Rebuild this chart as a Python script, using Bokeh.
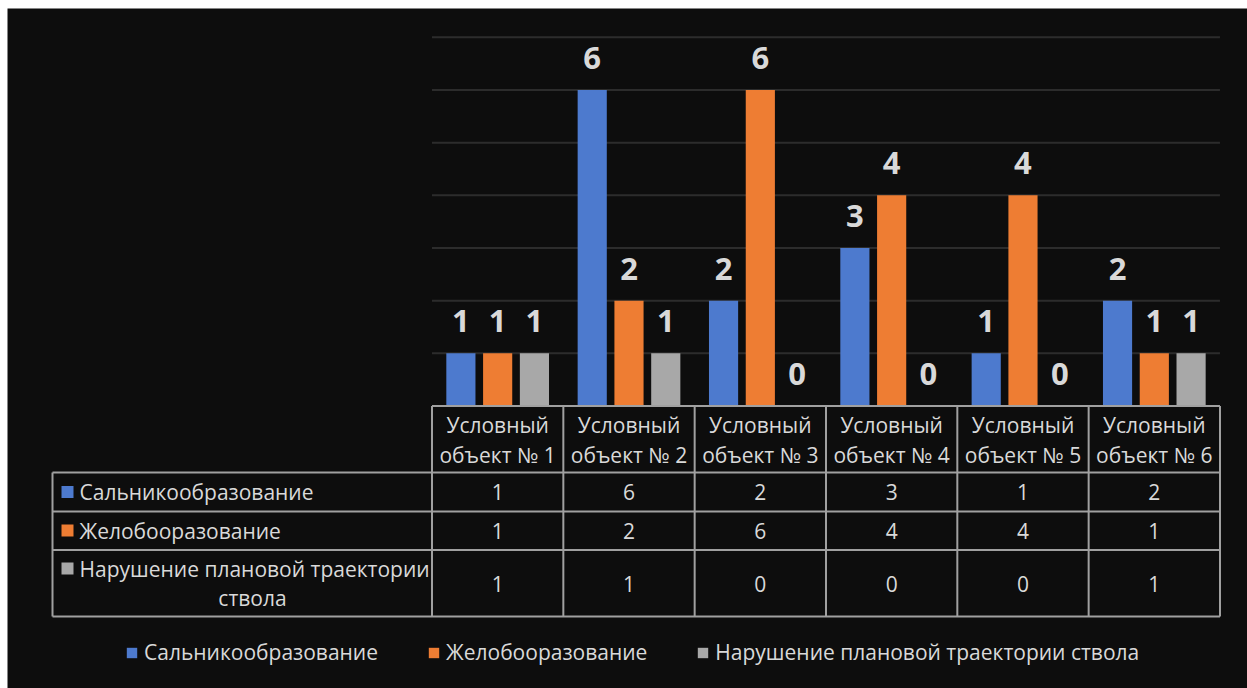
from bokeh.plotting import figure
from bokeh.models import Range1d, Legend, LegendItem
from bokeh.core.properties import value
from bokeh.embed import file_html
from bokeh.resources import INLINE

# ---------------- data ----------------
categories = ["Условный объект № 1", "Условный объект № 2", "Условный объект № 3",
              "Условный объект № 4", "Условный объект № 5", "Условный объект № 6"]
series_names = ["Сальникообразование", "Желобооразование",
                "Нарушение плановой траектории ствола"]
salnik = [1, 6, 2, 3, 1, 2]
zhelob = [1, 2, 6, 4, 4, 1]
narush = [1, 1, 0, 0, 0, 1]
grid_values = [1, 2, 3, 4, 5, 6, 7]

series_values = [salnik, zhelob, narush]
colors = ["#4d7ace", "#ee7d33", "#a8a8a8"]

# ---------------- layout (pixels) ----------------
W, H = 1247, 688
LM, TM = 7, 8
X0_PX, CAT_PX = 431.5, 131.33      # category axis start, width per category
Y0_PX, UNIT_PX = 405.5, 52.67      # value 0 pixel, pixels per unit
FONT = value("Open Sans")
TXT = "#d9d9d9"
LINE = "#a0a0a0"
FS = "21px"


def ux(px):
    return (px - X0_PX) / CAT_PX


def vy(py):
    return (Y0_PX - py) / UNIT_PX


p = figure(width=W, height=H,
           x_range=Range1d(ux(LM), ux(W)), y_range=Range1d(vy(H), vy(TM)),
           output_backend="svg", toolbar_location=None,
           x_axis_location=None, y_axis_location=None,
           min_border_left=LM, min_border_top=TM, min_border_right=0, min_border_bottom=0,
           background_fill_color="#0d0d0d", border_fill_color="white")
p.grid.visible = False
p.outline_line_color = None

n = len(categories)

# gridlines
p.segment(x0=[0] * len(grid_values), x1=[n] * len(grid_values),
          y0=grid_values, y1=grid_values, line_color="#2c2c2c", line_width=2)

# bars + labels
offsets = [-0.28, 0.0, 0.28]
bar_w = 0.222
renderers = []
for vals, off, col in zip(series_values, offsets, colors):
    xs = [i + 0.5 + off for i in range(n)]
    r = p.vbar(x=xs, top=vals, bottom=0, width=bar_w, fill_color=col, line_color=None)
    renderers.append(r)
    p.text(x=xs, y=vals, text=[str(v) for v in vals], text_align="center",
           text_baseline="alphabetic", y_offset=-32, text_font=FONT,
           text_font_style="bold", text_font_size="31px", text_color=TXT)

# ---------------- data table ----------------
hdr_bot, r1_bot, r2_bot, r3_bot = vy(472), vy(511), vy(549.5), vy(616)
left_x = ux(52)
# horizontal lines
p.segment(x0=[0], x1=[n], y0=[0], y1=[0], line_color=LINE, line_width=2)
p.segment(x0=[left_x] * 4, x1=[n] * 4, y0=[hdr_bot, r1_bot, r2_bot, r3_bot],
          y1=[hdr_bot, r1_bot, r2_bot, r3_bot], line_color=LINE, line_width=2)
# vertical lines
p.segment(x0=list(range(n + 1)), x1=list(range(n + 1)), y0=[0] * (n + 1),
          y1=[r3_bot] * (n + 1), line_color=LINE, line_width=2)
p.segment(x0=[left_x], x1=[left_x], y0=[hdr_bot], y1=[r3_bot], line_color=LINE, line_width=2)

# header texts
cx = [i + 0.5 for i in range(n)]
line1 = [c.split(" ", 1)[0] for c in categories]
line2 = [c.split(" ", 1)[1] for c in categories]
p.text(x=cx, y=[vy(424)] * n, text=line1, text_align="center", text_baseline="middle",
       text_font=FONT, text_font_size=FS, text_color=TXT)
p.text(x=cx, y=[vy(454)] * n, text=line2, text_align="center", text_baseline="middle",
       text_font=FONT, text_font_size=FS, text_color=TXT)

# row values
row_centers = [vy(491.5), vy(530), vy(583)]
for vals, yc in zip(series_values, row_centers):
    p.text(x=cx, y=[yc] * n, text=[str(v) for v in vals], text_align="center",
           text_baseline="middle", text_font=FONT, text_font_size=FS, text_color=TXT)

# row labels
label_y = [vy(491.5), vy(530), vy(568)]
p.scatter(x=[ux(67)] * 3, y=label_y, marker="square", size=12, fill_color=colors,
          line_color=None)
first_lines = [series_names[0], series_names[1], series_names[2].rsplit(" ", 1)[0]]
p.text(x=[ux(79)] * 3, y=label_y, text=first_lines, text_align="left",
       text_baseline="middle", text_font=FONT, text_font_size=FS, text_color=TXT)
p.text(x=[ux(252)], y=[vy(597)], text=[series_names[2].rsplit(" ", 1)[1]],
       text_align="center", text_baseline="middle", text_font=FONT,
       text_font_size=FS, text_color=TXT)

# ---------------- legend ----------------
legend = Legend(items=[LegendItem(label=nm, renderers=[r]) for nm, r in zip(series_names, renderers)],
                orientation="horizontal", location=(118, 22),
                glyph_width=13, glyph_height=13, label_standoff=6, spacing=49,
                padding=0, margin=0, background_fill_alpha=0, border_line_alpha=0,
                label_text_font="Open Sans", label_text_font_size=FS,
                label_text_color=TXT)
p.add_layout(legend)

open("out.html", "w").write(file_html(p, INLINE))
